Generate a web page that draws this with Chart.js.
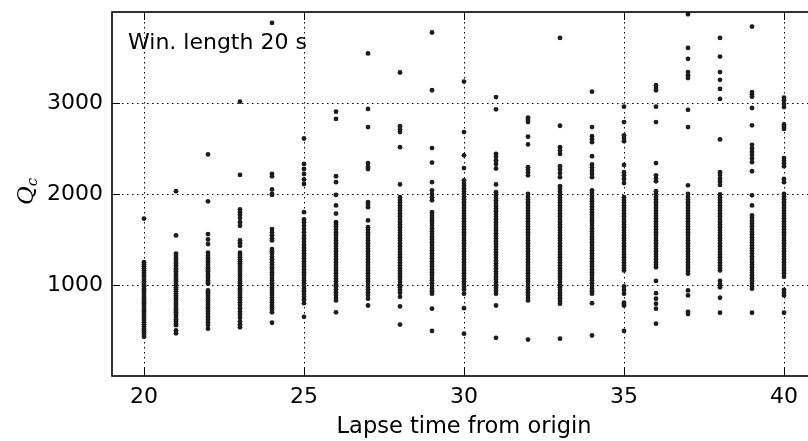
<!DOCTYPE html>
<html>
<head>
<meta charset="utf-8">
<script src="https://cdn.jsdelivr.net/npm/chart.js@4/dist/chart.umd.min.js"></script>
<style>
html, body { margin: 0; padding: 0; overflow: hidden; background: #fff; }
#wrap { width: 830px; height: 441px; position: relative; }
</style>
</head>
<body>
<div id="wrap"><canvas id="graficoQc"></canvas></div>
<script>
// ======================================
// Qc vs lapse time (window 20 s)
// ======================================

const lapseTimes = [20, 21, 22, 23, 24, 25, 26, 27, 28, 29, 30, 31, 32, 33, 34, 35, 36, 37, 38, 39, 40];
const xTicks = [20, 25, 30, 35, 40];
const yTicks = [1000, 2000, 3000];

const qc20 = [1730, 1250, 1228, 1205, 1180, 1162, 1135, 1110, 1092, 1065, 1040, 1022, 1000, 985, 962, 940, 922, 900, 878, 860, 842, 818, 800, 782, 760, 738, 720, 702, 680, 660, 638, 615, 592, 570, 548, 520, 500, 478, 455, 430];
const qc21 = [2030, 1545, 1345, 1318, 1292, 1265, 1240, 1218, 1190, 1172, 1150, 1125, 1102, 1080, 1058, 1040, 1015, 995, 972, 952, 930, 905, 885, 862, 840, 815, 792, 770, 745, 722, 700, 675, 650, 625, 600, 578, 558, 500, 470];
const qc22 = [2435, 1920, 1560, 1500, 1450, 1355, 1322, 1295, 1270, 1248, 1220, 1195, 1172, 1150, 1125, 1100, 1078, 1050, 1025, 1015, 940, 918, 900, 880, 855, 830, 805, 782, 755, 730, 705, 680, 650, 620, 590, 560, 520];
const qc23 = [3015, 2210, 1830, 1800, 1770, 1735, 1690, 1650, 1490, 1460, 1430, 1355, 1330, 1305, 1282, 1260, 1238, 1215, 1190, 1165, 1142, 1118, 1090, 1065, 1040, 1018, 990, 965, 940, 915, 890, 865, 840, 810, 780, 745, 710, 675, 640, 600, 565, 535];
const qc24 = [3880, 2220, 2195, 2050, 2000, 1990, 1615, 1580, 1545, 1510, 1490, 1395, 1370, 1345, 1310, 1280, 1250, 1225, 1195, 1170, 1140, 1110, 1080, 1050, 1020, 995, 970, 945, 915, 890, 860, 835, 810, 780, 755, 730, 700, 585];
const qc25 = [2610, 2330, 2275, 2220, 2160, 2110, 1800, 1720, 1690, 1650, 1615, 1580, 1540, 1510, 1475, 1440, 1410, 1380, 1350, 1320, 1290, 1260, 1230, 1200, 1170, 1140, 1110, 1080, 1050, 1020, 990, 960, 930, 900, 870, 840, 800, 650];
const qc26 = [2905, 2825, 2195, 2130, 1990, 1875, 1785, 1690, 1665, 1640, 1610, 1580, 1550, 1520, 1490, 1460, 1430, 1400, 1370, 1340, 1310, 1280, 1250, 1220, 1190, 1160, 1130, 1100, 1070, 1040, 1010, 980, 950, 920, 890, 860, 830, 700];
const qc27 = [3545, 2935, 2735, 2340, 2300, 2275, 1910, 1880, 1855, 1710, 1635, 1610, 1580, 1550, 1520, 1490, 1460, 1430, 1400, 1370, 1340, 1310, 1280, 1250, 1220, 1190, 1160, 1130, 1100, 1070, 1040, 1010, 980, 950, 920, 890, 850, 775];
const qc28 = [3335, 2745, 2710, 2680, 2515, 2105, 1965, 1935, 1905, 1875, 1845, 1815, 1785, 1755, 1725, 1695, 1665, 1635, 1605, 1575, 1545, 1515, 1485, 1455, 1425, 1395, 1365, 1335, 1305, 1275, 1245, 1215, 1185, 1155, 1125, 1095, 1065, 1035, 1005, 975, 945, 915, 870, 765, 565];
const qc29 = [3775, 3140, 2505, 2345, 2130, 2040, 2000, 1965, 1930, 1800, 1770, 1740, 1710, 1680, 1650, 1620, 1590, 1560, 1530, 1500, 1470, 1440, 1410, 1380, 1350, 1320, 1290, 1260, 1230, 1200, 1170, 1140, 1110, 1080, 1050, 1020, 990, 960, 930, 905, 740, 495];
const qc30 = [3235, 2680, 2425, 2285, 2150, 2120, 2090, 2060, 2030, 2000, 1970, 1940, 1910, 1880, 1850, 1820, 1790, 1760, 1730, 1700, 1670, 1640, 1610, 1580, 1550, 1520, 1490, 1460, 1430, 1400, 1370, 1340, 1310, 1280, 1250, 1220, 1190, 1160, 1130, 1100, 1070, 1040, 1010, 980, 950, 905, 745, 465];
const qc31 = [3065, 2930, 2440, 2410, 2370, 2330, 2280, 2105, 2020, 1990, 1960, 1930, 1900, 1870, 1840, 1810, 1780, 1750, 1720, 1690, 1660, 1630, 1600, 1570, 1540, 1510, 1480, 1450, 1420, 1390, 1360, 1330, 1300, 1270, 1240, 1210, 1180, 1150, 1120, 1090, 1060, 1030, 1000, 970, 940, 905, 775, 420];
const qc32 = [2840, 2815, 2790, 2630, 2545, 2295, 2265, 2235, 2205, 2000, 1970, 1940, 1910, 1880, 1850, 1820, 1790, 1760, 1730, 1700, 1670, 1640, 1610, 1580, 1550, 1520, 1490, 1460, 1430, 1400, 1370, 1340, 1310, 1280, 1250, 1220, 1190, 1160, 1130, 1100, 1070, 1040, 1010, 980, 950, 920, 890, 860, 830, 400];
const qc33 = [3715, 2750, 2515, 2480, 2440, 2305, 2270, 2230, 2185, 2085, 2055, 2025, 1995, 1965, 1935, 1905, 1875, 1845, 1815, 1785, 1755, 1725, 1695, 1665, 1635, 1605, 1575, 1545, 1515, 1485, 1455, 1425, 1395, 1365, 1335, 1305, 1275, 1245, 1215, 1185, 1155, 1125, 1095, 1065, 1035, 1005, 975, 945, 915, 885, 855, 825, 795, 410];
const qc34 = [3125, 2735, 2635, 2600, 2570, 2415, 2325, 2290, 2255, 2220, 2185, 2040, 2010, 1980, 1950, 1920, 1890, 1860, 1830, 1800, 1770, 1740, 1710, 1680, 1650, 1620, 1590, 1560, 1530, 1500, 1470, 1440, 1410, 1380, 1350, 1320, 1290, 1260, 1230, 1200, 1170, 1140, 1110, 1080, 1050, 1020, 990, 960, 930, 905, 800, 445];
const qc35 = [2960, 2790, 2645, 2615, 2580, 2320, 2240, 2205, 2165, 2120, 1965, 1935, 1905, 1875, 1845, 1815, 1785, 1755, 1725, 1695, 1665, 1635, 1605, 1575, 1545, 1515, 1485, 1455, 1425, 1395, 1365, 1335, 1305, 1275, 1245, 1215, 1185, 1160, 985, 945, 905, 805, 790, 775, 495];
const qc36 = [3195, 3165, 3140, 2960, 2790, 2340, 2205, 2170, 2140, 2030, 2000, 1970, 1940, 1910, 1880, 1850, 1820, 1790, 1760, 1730, 1700, 1670, 1640, 1610, 1580, 1550, 1520, 1490, 1460, 1430, 1400, 1370, 1340, 1310, 1280, 1250, 1220, 1195, 1045, 910, 850, 795, 740, 575];
const qc37 = [3975, 3605, 3485, 3340, 3305, 3275, 2925, 2735, 2095, 2000, 1970, 1940, 1910, 1880, 1850, 1820, 1790, 1760, 1730, 1700, 1670, 1640, 1610, 1580, 1550, 1520, 1490, 1460, 1430, 1400, 1370, 1340, 1310, 1280, 1250, 1220, 1190, 1155, 1125, 940, 885, 705, 680];
const qc38 = [3715, 3510, 3340, 3255, 3155, 3045, 2600, 2240, 2210, 2170, 2135, 2100, 1995, 1965, 1935, 1905, 1875, 1845, 1815, 1785, 1755, 1725, 1695, 1665, 1635, 1605, 1575, 1545, 1515, 1485, 1455, 1425, 1395, 1365, 1335, 1305, 1275, 1245, 1215, 1185, 1160, 1045, 1010, 975, 860, 695];
const qc39 = [3840, 3120, 3095, 3070, 2945, 2755, 2540, 2500, 2465, 2430, 2390, 2350, 2250, 1985, 1875, 1765, 1735, 1705, 1675, 1645, 1615, 1585, 1555, 1525, 1495, 1465, 1435, 1405, 1375, 1345, 1315, 1285, 1255, 1225, 1195, 1165, 1135, 1105, 1075, 1045, 1015, 985, 960, 695];
const qc40 = [3060, 3030, 2990, 2955, 2765, 2740, 2715, 2395, 2365, 2335, 2305, 2165, 2130, 2000, 1970, 1940, 1910, 1880, 1850, 1820, 1790, 1760, 1730, 1700, 1670, 1640, 1610, 1580, 1550, 1520, 1490, 1460, 1430, 1400, 1370, 1340, 1310, 1280, 1250, 1220, 1190, 1160, 1130, 1090, 945, 915, 885, 695];

const colunas = [qc20, qc21, qc22, qc23, qc24, qc25, qc26, qc27, qc28, qc29, qc30,
    qc31, qc32, qc33, qc34, qc35, qc36, qc37, qc38, qc39, qc40];

const pontos = [];
colunas.forEach((valores, i) => {
    valores.forEach(v => pontos.push({ x: lapseTimes[i], y: v }));
});

const fonte = "'DejaVu Sans', sans-serif";

// frame, inward ticks, label text
const moldura = {
    id: "moldura",
    afterDatasetsDraw(chart) {
        const { ctx, chartArea: a, scales } = chart;
        ctx.save();
        ctx.strokeStyle = "#000";
        ctx.lineWidth = 1;
        ctx.beginPath();
        xTicks.forEach(t => {
            const px = Math.round(scales.x.getPixelForValue(t)) + 0.5;
            ctx.moveTo(px, a.bottom); ctx.lineTo(px, a.bottom - 8);
            ctx.moveTo(px, a.top); ctx.lineTo(px, a.top + 8);
        });
        yTicks.forEach(t => {
            const py = Math.round(scales.y.getPixelForValue(t)) + 0.5;
            ctx.moveTo(a.left, py); ctx.lineTo(a.left + 8, py);
            ctx.moveTo(a.right, py); ctx.lineTo(a.right - 8, py);
        });
        ctx.stroke();
        ctx.lineWidth = 1.6;
        ctx.strokeRect(a.left, a.top, a.right - a.left, a.bottom - a.top);

        ctx.fillStyle = "#000";
        ctx.font = "22px " + fonte;
        ctx.textBaseline = "alphabetic";
        ctx.fillText("Win. length 20 s", 128, 49);

        ctx.translate(33, 205);
        ctx.rotate(-Math.PI / 2);
        ctx.font = "italic 23px 'DejaVu Serif', serif";
        ctx.fillText("Q", 0, 0);
        const w = ctx.measureText("Q").width;
        ctx.font = "italic 15px 'DejaVu Serif', serif";
        ctx.fillText("c", w, 4);
        ctx.restore();
    }
};

const grafico = document.getElementById("graficoQc");

new Chart(grafico, {
    type: "scatter",
    data: {
        datasets: [{
            label: "Qc",
            data: pontos,
            pointRadius: 2.4,
            pointHoverRadius: 2.4,
            pointBackgroundColor: "#1c1c1c",
            pointBorderWidth: 0,
            clip: 0
        }]
    },
    options: {
        responsive: true,
        maintainAspectRatio: false,
        animation: false,
        layout: { padding: { left: 0, top: 12, right: 14, bottom: 0 } },
        plugins: {
            legend: { display: false },
            tooltip: { enabled: false }
        },
        scales: {
            x: {
                type: "linear",
                min: 19,
                max: 41,
                afterBuildTicks: s => { s.ticks = xTicks.map(v => ({ value: v })); },
                afterFit: s => { s.height = 65; s.paddingLeft = 0; s.paddingRight = 0; },
                grid: { color: "#000", lineWidth: 1, drawTicks: false },
                border: { display: false, dash: [1.5, 3.5] },
                ticks: { color: "#000", padding: 8, font: { family: fonte, size: 22 } },
                title: {
                    display: true,
                    text: "Lapse time from origin",
                    color: "#000",
                    padding: { top: 0, bottom: 0 },
                    font: { family: fonte, size: 22.5 }
                }
            },
            y: {
                min: 0,
                max: 4000,
                afterBuildTicks: s => { s.ticks = yTicks.map(v => ({ value: v })); },
                afterFit: s => { s.width = 112; s.paddingTop = 0; s.paddingBottom = 0; },
                grid: { color: "#000", lineWidth: 1, drawTicks: false },
                border: { display: false, dash: [1.5, 3.5] },
                ticks: {
                    color: "#000",
                    padding: 9,
                    font: { family: fonte, size: 22 },
                    callback: v => String(v)
                }
            }
        }
    },
    plugins: [moldura]
});
</script>
</body>
</html>
